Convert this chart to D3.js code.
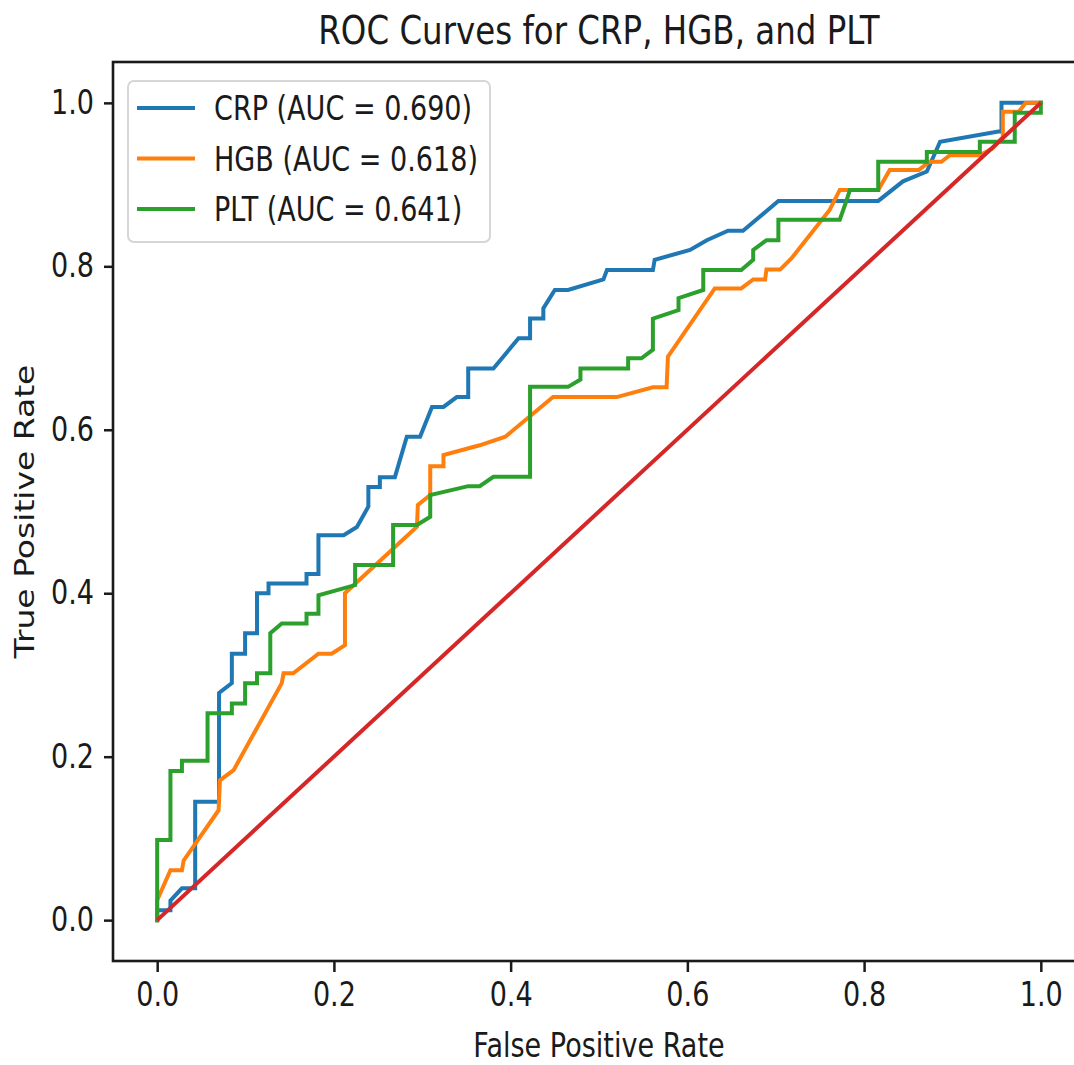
<!DOCTYPE html>
<html>
<head>
<meta charset="utf-8">
<script src="https://cdn.jsdelivr.net/npm/d3@7"></script>
<style>
  html, body { margin: 0; padding: 0; background: #fff; }
  svg { display: block; }
  text { font-family: "DejaVu Sans", sans-serif; fill: #1a1a1a; }
</style>
</head>
<body>
<div id="chart"></div>
<script>
// ROC points, [false positive rate, true positive rate]
const crpRoc = [
  [0, 0], [0, 0.012], [0.015, 0.012], [0.015, 0.024], [0.028, 0.039], [0.043, 0.039],
  [0.043, 0.145], [0.070, 0.145], [0.070, 0.278], [0.0845, 0.29], [0.0845, 0.326],
  [0.0995, 0.326], [0.0995, 0.351], [0.113, 0.351], [0.113, 0.40], [0.126, 0.40],
  [0.126, 0.412], [0.169, 0.412], [0.169, 0.4235], [0.1825, 0.4235], [0.1825, 0.471],
  [0.211, 0.471], [0.226, 0.481], [0.239, 0.506], [0.239, 0.530], [0.252, 0.530],
  [0.252, 0.542], [0.269, 0.542], [0.2825, 0.5915], [0.2975, 0.5915], [0.311, 0.628],
  [0.324, 0.628], [0.339, 0.640], [0.352, 0.640], [0.352, 0.675], [0.3805, 0.675],
  [0.409, 0.712], [0.422, 0.712], [0.422, 0.736], [0.437, 0.736], [0.437, 0.7485],
  [0.450, 0.771], [0.465, 0.771], [0.505, 0.784], [0.509, 0.7955], [0.561, 0.7955],
  [0.563, 0.808], [0.603, 0.820], [0.622, 0.832], [0.646, 0.8435], [0.663, 0.8435],
  [0.703, 0.880], [0.816, 0.880], [0.844, 0.904], [0.871, 0.916], [0.886, 0.9525],
  [0.952, 0.965], [0.9555, 0.965], [0.9555, 1.0], [1.0, 1.0]
];

const hgbRoc = [
  [0, 0], [0, 0.0245], [0.015, 0.061], [0.028, 0.061], [0.030, 0.073], [0.0695, 0.1345],
  [0.071, 0.171], [0.0865, 0.1835], [0.141, 0.29], [0.143, 0.302], [0.154, 0.302],
  [0.1825, 0.326], [0.1975, 0.326], [0.2125, 0.3365], [0.2125, 0.40], [0.294, 0.4815],
  [0.295, 0.508], [0.309, 0.520], [0.309, 0.5555], [0.324, 0.5555], [0.324, 0.569],
  [0.365, 0.581], [0.394, 0.5915], [0.448, 0.640], [0.520, 0.640], [0.561, 0.652],
  [0.5765, 0.652], [0.578, 0.6895], [0.631, 0.773], [0.661, 0.773], [0.6745, 0.784],
  [0.688, 0.784], [0.6895, 0.796], [0.705, 0.796], [0.718, 0.810], [0.761, 0.869],
  [0.7725, 0.8935], [0.816, 0.8935], [0.829, 0.918], [0.862, 0.918], [0.874, 0.928],
  [0.8875, 0.928], [0.897, 0.936], [0.931, 0.936], [0.945, 0.944], [0.957, 0.958],
  [0.957, 0.989], [0.975, 0.989], [0.983, 1.0], [1.0, 1.0]
];

const pltRoc = [
  [0, 0], [0, 0.098], [0.015, 0.098], [0.015, 0.1825], [0.028, 0.1825], [0.028, 0.195],
  [0.057, 0.195], [0.057, 0.253], [0.0845, 0.253], [0.0845, 0.265], [0.0995, 0.265],
  [0.0995, 0.29], [0.113, 0.29], [0.113, 0.302], [0.128, 0.302], [0.128, 0.351],
  [0.141, 0.363], [0.169, 0.363], [0.169, 0.375], [0.1825, 0.375], [0.1825, 0.3975],
  [0.224, 0.410], [0.224, 0.4345], [0.267, 0.4345], [0.267, 0.4835], [0.294, 0.4835],
  [0.309, 0.4935], [0.309, 0.520], [0.352, 0.531], [0.365, 0.531], [0.3805, 0.5425],
  [0.422, 0.5425], [0.422, 0.6525], [0.465, 0.6525], [0.479, 0.6615], [0.479, 0.675],
  [0.533, 0.675], [0.533, 0.6875], [0.548, 0.6875], [0.561, 0.698], [0.561, 0.736],
  [0.590, 0.7465], [0.590, 0.761], [0.618, 0.771], [0.618, 0.7955], [0.661, 0.7955],
  [0.6745, 0.808], [0.6745, 0.820], [0.6895, 0.832], [0.703, 0.832], [0.703, 0.857],
  [0.7725, 0.857], [0.780, 0.880], [0.784, 0.8935], [0.816, 0.8935], [0.816, 0.928],
  [0.871, 0.928], [0.871, 0.940], [0.931, 0.940], [0.931, 0.9525], [0.9705, 0.9525],
  [0.9705, 0.988], [1.0, 0.988], [1.0, 1.0]
];

const chanceLine = [[0, 0], [1, 1]];

const seriesNames = ['CRP', 'HGB', 'PLT'];
const aucValues = [0.690, 0.618, 0.641];
const seriesColors = ['#1f77b4', '#ff7f0e', '#2ca02c'];
const tickValues = [0, 0.2, 0.4, 0.6, 0.8, 1.0];

const W = 1074, H = 1065;
// axes box (right edge runs past the picture, as in the original)
const box = { left: 113, top: 62, right: 1085, bottom: 961 };
// glyphs are squeezed sideways in the original picture
const sx = 0.82;
const fontSize = 33;
const titleSize = 39.6;

const svg = d3.select('#chart')
  .append('svg')
  .attr('width', W)
  .attr('height', H);

const x = d3.scaleLinear().domain([-0.05, 1.05]).range([box.left, box.right]);
const y = d3.scaleLinear().domain([-0.05, 1.05]).range([box.bottom, box.top]);

svg.append('clipPath')
  .attr('id', 'plot-clip')
  .append('rect')
  .attr('x', box.left)
  .attr('y', box.top)
  .attr('width', box.right - box.left)
  .attr('height', box.bottom - box.top);

// Curves
const line = d3.line()
  .x(d => x(d[0]))
  .y(d => y(d[1]));

const curves = [crpRoc, hgbRoc, pltRoc];
const plotG = svg.append('g').attr('clip-path', 'url(#plot-clip)');

curves.forEach((pts, i) => {
  plotG.append('path')
    .datum(pts)
    .attr('d', line)
    .attr('fill', 'none')
    .attr('stroke', seriesColors[i])
    .attr('stroke-width', 4)
    .attr('stroke-linejoin', 'miter')
    .attr('stroke-linecap', 'square');
});

plotG.append('path')
  .datum(chanceLine)
  .attr('d', line)
  .attr('fill', 'none')
  .attr('stroke', '#d62728')
  .attr('stroke-width', 4);

// Axes
const fmt = d3.format('.1f');

const xAxis = svg.append('g')
  .attr('transform', `translate(0,${box.bottom})`)
  .call(d3.axisBottom(x).tickValues(tickValues).tickFormat(fmt).tickSize(11).tickPadding(11));

const yAxis = svg.append('g')
  .attr('transform', `translate(${box.left},0)`)
  .call(d3.axisLeft(y).tickValues(tickValues).tickFormat(fmt).tickSize(9).tickPadding(10));

[xAxis, yAxis].forEach(a => {
  a.select('.domain').remove();
  a.selectAll('.tick line').attr('stroke', '#1a1a1a').attr('stroke-width', 2.5);
  a.selectAll('.tick text')
    .style('font-family', '"DejaVu Sans", sans-serif')
    .style('font-size', fontSize + 'px')
    .attr('fill', '#1a1a1a');
});

xAxis.selectAll('.tick text').attr('transform', `scale(${sx},1)`);
yAxis.selectAll('.tick text')
  .attr('x', -19 / sx)
  .attr('transform', `scale(${sx},1)`);

// Spines
svg.append('rect')
  .attr('x', box.left)
  .attr('y', box.top)
  .attr('width', box.right - box.left)
  .attr('height', box.bottom - box.top)
  .attr('fill', 'none')
  .attr('stroke', '#1a1a1a')
  .attr('stroke-width', 2.6);

// Title and axis labels
const midX = (box.left + box.right) / 2;
const midY = (box.top + box.bottom) / 2;

svg.append('text')
  .attr('transform', `translate(${midX},44) scale(${sx},1)`)
  .attr('text-anchor', 'middle')
  .style('font-size', titleSize + 'px')
  .text('ROC Curves for CRP, HGB, and PLT');

svg.append('text')
  .attr('transform', `translate(${midX},1057) scale(${sx},1)`)
  .attr('text-anchor', 'middle')
  .style('font-size', fontSize + 'px')
  .text('False Positive Rate');

svg.append('text')
  .attr('transform', `translate(34,${midY}) scale(${sx},1) rotate(-90)`)
  .attr('text-anchor', 'middle')
  .style('font-size', fontSize + 'px')
  .text('True Positive Rate');

// Legend
const legend = svg.append('g');
legend.append('rect')
  .attr('x', 128)
  .attr('y', 81)
  .attr('width', 362)
  .attr('height', 161)
  .attr('rx', 6)
  .attr('fill', '#fff')
  .attr('fill-opacity', 0.8)
  .attr('stroke', '#d6d6d6')
  .attr('stroke-width', 2);

seriesNames.forEach((name, i) => {
  const ly = 108 + i * 50.5;
  legend.append('line')
    .attr('x1', 137).attr('x2', 195)
    .attr('y1', ly).attr('y2', ly)
    .attr('stroke', seriesColors[i])
    .attr('stroke-width', 4);
  legend.append('text')
    .attr('transform', `translate(214,${ly + 12}) scale(${sx},1)`)
    .style('font-size', fontSize + 'px')
    .text(`${name} (AUC = ${aucValues[i].toFixed(3)})`);
});
</script>
</body>
</html>
